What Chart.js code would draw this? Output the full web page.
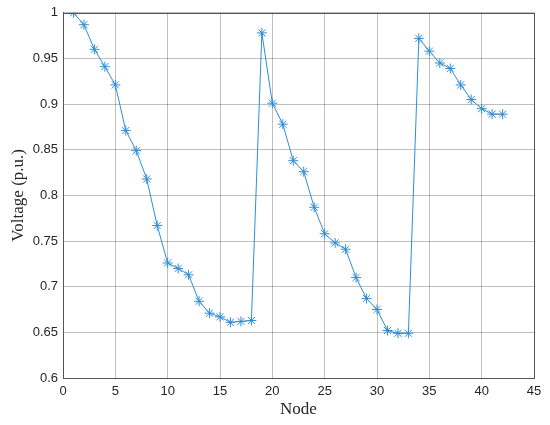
<!DOCTYPE html>
<html>
<head>
<meta charset="utf-8">
<script src="https://cdn.jsdelivr.net/npm/chart.js@4"></script>
<style>
  html, body { margin: 0; padding: 0; background: #fff; }
  #wrap { width: 550px; height: 425px; }
</style>
</head>
<body>
<div id="wrap"><canvas id="voltage-chart" width="550" height="425"></canvas></div>
<script>
// node numbers 1..42
var nodes = [1,2,3,4,5,6,7,8,9,10,11,12,13,14,15,16,17,18,19,20,21,
             22,23,24,25,26,27,28,29,30,31,32,33,34,35,36,37,38,39,40,41,42];
// voltage in p.u.
var voltage = [1.000,0.987,0.960,0.941,0.921,0.871,0.849,0.818,0.767,0.726,
               0.720,0.713,0.684,0.671,0.667,0.661,0.662,0.663,0.978,0.901,
               0.878,0.838,0.826,0.787,0.758,0.748,0.741,0.710,0.687,0.675,
               0.652,0.649,0.649,0.972,0.958,0.945,0.939,0.921,0.905,0.895,
               0.889,0.889];
var xTicks = [0,5,10,15,20,25,30,35,40,45];
var yTicks = [0.6,0.65,0.7,0.75,0.8,0.85,0.9,0.95,1];

var lineColor = "#2f8ed8";

var points = nodes.map(function(n, i){ return {x: n, y: voltage[i]}; });

// box round the plot like a matlab axes
var boxPlugin = {
    id: "box",
    afterDraw: function(chart) {
        var a = chart.chartArea, ctx = chart.ctx;
        ctx.save();
        ctx.strokeStyle = "#555";
        ctx.lineWidth = 1;
        ctx.strokeRect(Math.round(a.left) + 0.5, Math.round(a.top) + 0.5,
                       Math.round(a.right - a.left), Math.round(a.bottom - a.top));
        ctx.restore();
    }
};

var ctx = document.getElementById("voltage-chart").getContext("2d");
var chart = new Chart(ctx, {
    type: "line",
    data: {
        datasets: [{
            data: points,
            borderColor: lineColor,
            backgroundColor: lineColor,
            borderWidth: 1,
            pointStyle: "star",
            pointRadius: 5,
            pointBorderWidth: 1,
            pointBorderColor: lineColor,
            pointHoverRadius: 5,
            tension: 0,
            fill: false
        }]
    },
    options: {
        responsive: false,
        animation: false,
        layout: { padding: { top: 11, right: 16, left: 0, bottom: 0 } },
        plugins: {
            legend: { display: false },
            tooltip: { enabled: false }
        },
        scales: {
            x: {
                type: "linear",
                min: 0,
                max: 45,
                afterBuildTicks: function(axis) {
                    axis.ticks = xTicks.map(function(v){ return {value: v}; });
                },
                grid: { color: "rgba(0,0,0,0.25)", drawTicks: false },
                border: { color: "#555" },
                ticks: {
                    color: "#262626",
                    padding: 6,
                    maxRotation: 0,
                    font: { family: "'Liberation Sans', Arial, sans-serif", size: 13 }
                },
                title: {
                    display: true,
                    text: "Node",
                    color: "#262626",
                    padding: { top: 0, bottom: 5 },
                    font: { family: "'Liberation Serif', 'Times New Roman', serif", size: 17 }
                },
                afterFit: function(axis) { axis.height = 47; }
            },
            y: {
                type: "linear",
                min: 0.6,
                max: 1,
                afterBuildTicks: function(axis) {
                    axis.ticks = yTicks.map(function(v){ return {value: v}; });
                },
                grid: { color: "rgba(0,0,0,0.25)", drawTicks: false },
                border: { color: "#555" },
                ticks: {
                    color: "#262626",
                    padding: 5,
                    font: { family: "'Liberation Sans', Arial, sans-serif", size: 13 },
                    callback: function(v) { return String(+v.toFixed(2)); }
                },
                title: {
                    display: true,
                    text: "Voltage (p.u.)",
                    color: "#262626",
                    padding: { top: 8, bottom: 2 },
                    font: { family: "'Liberation Serif', 'Times New Roman', serif", size: 17 }
                },
                afterFit: function(axis) { axis.width = 63; }
            }
        }
    },
    plugins: [boxPlugin]
});
</script>
</body>
</html>
